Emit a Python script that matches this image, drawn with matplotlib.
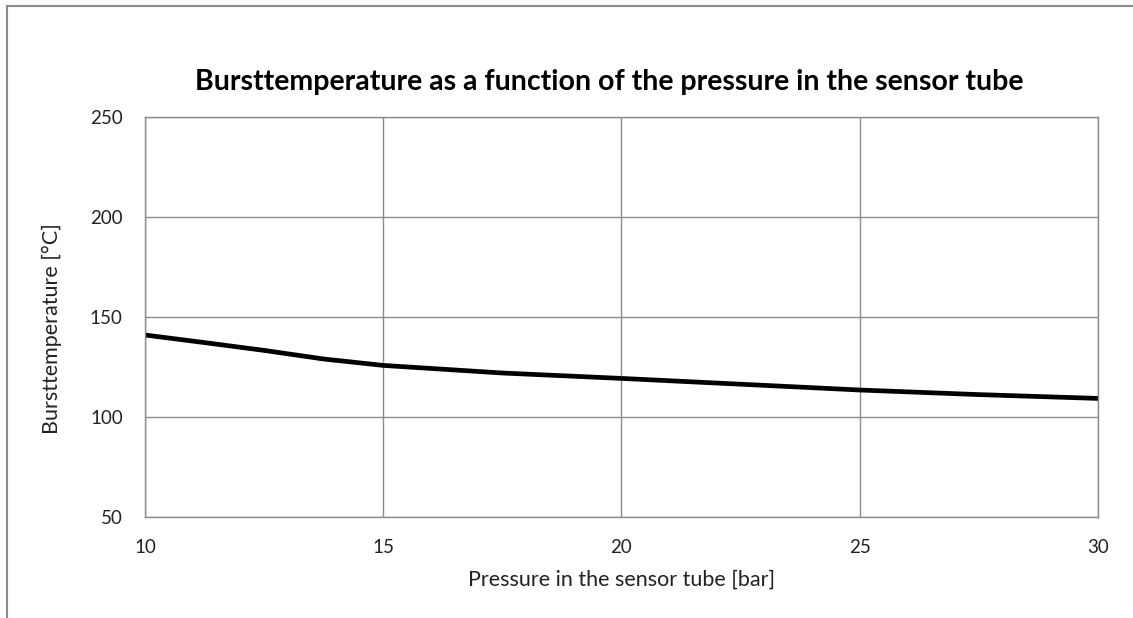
import matplotlib
matplotlib.use("Agg")
import matplotlib.pyplot as plt
from matplotlib.lines import Line2D

# values
pressure = [10, 11.25, 12.5, 13.75, 15, 17.5, 20, 22.5, 25, 27.5, 30]
burst_temp = [141.0, 137.2, 133.3, 129.0, 125.8, 122.0, 119.3, 116.4, 113.5, 111.2, 109.3]
x_ticks = [10, 15, 20, 25, 30]
y_ticks = [50, 100, 150, 200, 250]

plt.rcParams['font.family'] = ['Lato', 'DejaVu Sans']

fig = plt.figure(figsize=(11.33, 6.18), dpi=100)
ax = fig.add_axes([0.128, 0.1634, 0.841, 0.6473])

ax.plot(pressure, burst_temp, color='black', linewidth=3.4,
        solid_capstyle='round', solid_joinstyle='round')

ax.set_xlim(10, 30)
ax.set_ylim(50, 250)
ax.set_xticks(x_ticks)
ax.set_yticks(y_ticks)
ax.grid(True, color='#8c8c8c', linewidth=1.0)
ax.set_axisbelow(True)
for sp in ax.spines.values():
    sp.set_color('#8c8c8c')
    sp.set_linewidth(1.0)
ax.tick_params(length=0, labelsize=13.5, colors='#222222')
ax.tick_params(axis='x', pad=16)
ax.tick_params(axis='y', pad=16)

ax.set_xlabel('Pressure in the sensor tube [bar]', fontsize=15.5, color='#222222')
ax.set_ylabel('Bursttemperature [°C]', fontsize=15.5, color='#222222')
ax.xaxis.set_label_coords(0.500, -0.132)
ax.yaxis.set_label_coords(-0.087, 0.47)
fig.text(0.538, 0.867, 'Bursttemperature as a function of the pressure in the sensor tube',
         ha='center', va='center', fontsize=20.5, fontweight='bold', color='black')

# outer chart border (only left and top edges visible)
fig.add_artist(Line2D([0.0062, 0.0062], [0.0, 0.99], transform=fig.transFigure,
                      color='#8c8c8c', linewidth=1.5))
fig.add_artist(Line2D([0.0062, 1.0], [0.99, 0.99], transform=fig.transFigure,
                      color='#8c8c8c', linewidth=1.5))

fig.savefig('out.png', dpi=100)
